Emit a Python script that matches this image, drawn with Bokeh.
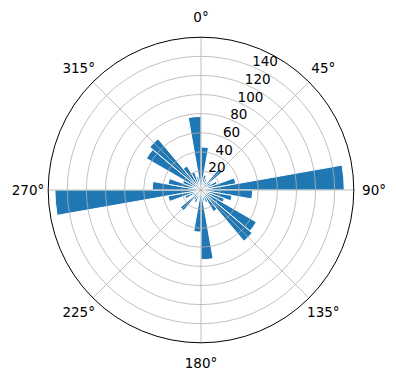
import numpy as np
from bokeh.plotting import figure
from bokeh.models import ColumnDataSource
from bokeh.core.properties import value
from bokeh.embed import file_html
from bokeh.resources import INLINE

# Data: 36 direction bins (compass degrees, left edge) and their counts
bin_edges_deg = list(range(0, 360, 10))
bin_width_deg = 10
counts = [45, 16, 12, 10, 29, 12, 18, 37, 150, 54,
          33, 26, 67, 70, 26, 14, 12, 73, 44, 10,
          14, 12, 28, 10, 18, 35, 153, 51, 35, 20,
          66, 70, 29, 20, 14, 77]
r_ticks = [20, 40, 60, 80, 100, 120, 140]
r_max = 160
theta_ticks = [0, 45, 90, 135, 180, 225, 270, 315]
theta_labels = ["0°", "45°", "90°", "135°", "180°", "225°", "270°", "315°"]

W, H = 396, 380
cx, cy = 200.5, 189.5
scale = 152.8 / r_max  # px per unit

p = figure(width=W, height=H, output_backend="svg", toolbar_location=None,
           x_range=(-cx / scale, (W - cx) / scale),
           y_range=(-(H - cy) / scale, cy / scale),
           min_border=0, match_aspect=False)
p.axis.visible = False
p.grid.visible = False
p.outline_line_color = None
p.background_fill_color = "white"

# compass (clockwise from north) -> math angle
def to_math(deg):
    return np.deg2rad(90.0 - np.asarray(deg, dtype=float))

edges = np.array(bin_edges_deg, dtype=float)
src = ColumnDataSource(dict(
    r=counts,
    start=to_math(edges + bin_width_deg),
    end=to_math(edges),
))
p.wedge(x=0, y=0, radius="r", start_angle="start", end_angle="end",
        source=src, fill_color="#1f77b4", line_color="white", line_width=1)

# grid rings and spokes on top
p.circle(x=[0] * len(r_ticks), y=[0] * len(r_ticks), radius=r_ticks,
         fill_color=None, line_color="#b0b0b0", line_width=0.8)
ang = to_math(theta_ticks)
p.segment(x0=[0] * len(ang), y0=[0] * len(ang),
          x1=list(r_max * np.cos(ang)), y1=list(r_max * np.sin(ang)),
          line_color="#b0b0b0", line_width=0.8)
p.circle(x=[0], y=[0], radius=[r_max], fill_color=None,
         line_color="black", line_width=1)

# angular labels
lab_r = 173 / scale
p.text(x=list(lab_r * np.cos(ang)), y=list(lab_r * np.sin(ang)), text=theta_labels,
       text_align="center", text_baseline="middle", text_font_size="13.5px",
       text_font=value("DejaVu Sans"), text_color="black")

# radial labels at 22.5 deg
ra = to_math(22.5)
p.text(x=[r * np.cos(ra) for r in r_ticks], y=[r * np.sin(ra) for r in r_ticks],
       text=[str(r) for r in r_ticks], text_align="left", text_baseline="bottom",
       text_font_size="13.5px", text_font=value("DejaVu Sans"), text_color="black")

open("out.html", "w").write(file_html(p, INLINE))
